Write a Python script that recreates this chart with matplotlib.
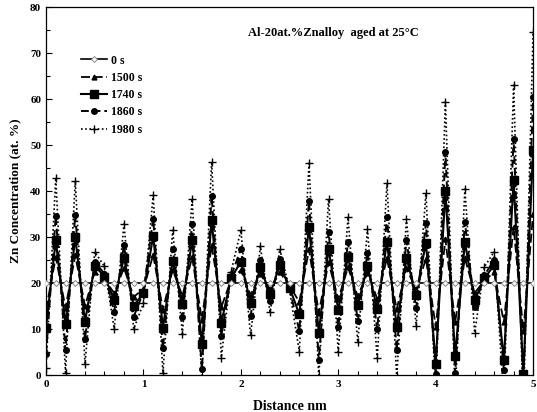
import numpy as np
import matplotlib
matplotlib.use('Agg')
import matplotlib.pyplot as plt
from matplotlib.ticker import MultipleLocator

plt.rcParams['font.family'] = ['Liberation Serif', 'DejaVu Serif']
plt.rcParams['font.weight'] = 'bold'

# distance along the profile (nm), one point every 0.1 nm
distance = np.linspace(0, 5, 51)

conc_0 = [20.0] * 51
conc_1500 = [14.2, 25.6, 14.6, 26.0, 15.0, 22.3, 20.8, 17.8, 23.3, 17.0,
             18.7, 26.1, 14.2, 22.9, 17.2, 25.6, 12.0, 28.2, 14.8, 20.7,
             22.8, 17.4, 22.0, 18.6, 22.3, 19.4, 15.9, 27.3, 13.5, 24.5,
             16.5, 23.4, 17.1, 22.2, 16.6, 25.4, 14.3, 23.2, 18.5, 25.3,
             10.5, 29.5, 11.5, 25.4, 17.8, 20.6, 22.3, 11.5, 32.2, 9.5, 35.1]
conc_1740 = [10.3, 29.3, 11.0, 30.0, 11.6, 23.8, 21.4, 16.4, 25.5, 15.0,
             17.8, 30.2, 10.3, 24.8, 15.4, 29.3, 6.7, 33.7, 11.4, 21.1,
             24.6, 15.7, 23.4, 17.6, 23.9, 19.0, 13.2, 32.2, 9.2, 27.5,
             14.1, 25.7, 15.2, 23.7, 14.3, 29.0, 10.5, 25.4, 17.5, 28.8,
             2.5, 40.0, 4.1, 29.0, 16.3, 21.0, 23.9, 3.3, 42.4, 0.2, 48.9]
conc_1860 = [4.5, 34.6, 5.4, 34.8, 7.8, 24.6, 22.0, 13.8, 28.3, 12.7,
             18.0, 34.0, 5.8, 27.5, 12.7, 32.8, 1.2, 39.0, 8.5, 21.5,
             27.4, 12.9, 25.0, 16.0, 25.2, 18.8, 9.6, 37.8, 3.3, 31.2,
             10.4, 29.0, 11.7, 26.6, 9.9, 34.4, 5.4, 29.3, 14.5, 33.0,
             0.2, 48.5, 0.4, 33.3, 14.8, 21.7, 25.0, 1.1, 51.4, -2.0, 60.4]
conc_1980 = [1.5, 42.8, 0.5, 42.2, 2.4, 26.8, 23.6, 10.0, 32.8, 10.0,
             15.6, 39.1, 0.4, 31.5, 9.0, 38.3, -1.0, 46.4, 3.8, 22.5,
             31.5, 8.6, 28.0, 13.6, 27.4, 18.5, 5.1, 46.0, -0.5, 38.3,
             5.0, 34.3, 7.1, 31.7, 3.6, 41.8, -0.5, 33.9, 10.7, 39.6,
             -4.0, 59.4, -4.0, 40.4, 9.2, 23.5, 26.8, -5.0, 63.0, -8.0, 74.6]

fig = plt.figure(figsize=(5.37, 4.12), dpi=100)
ax = fig.add_axes([0.0857, 0.0898, 0.907, 0.893])

ax.plot(distance, conc_1980, color='black', lw=1.2, ls=(0, (1, 1.5)),
        marker='+', ms=6, mew=1.0, label='1980 s', zorder=2)
ax.plot(distance, conc_1860, color='black', lw=1.4, ls=(0, (4, 2)),
        marker='o', ms=4, label='1860 s', zorder=3)
ax.plot(distance, conc_1740, color='black', lw=1.5, ls='-',
        marker='s', ms=5.5, label='1740 s', zorder=4)
ax.plot(distance, conc_1500, color='black', lw=1.3, ls=(0, (5, 2)),
        marker='^', ms=3.5, label='1500 s', zorder=5)
ax.plot(distance, conc_0, color='black', lw=1.2, ls='-',
        marker='D', ms=3, mfc='white', mec='#888888', mew=0.7,
        label='0 s', zorder=6)

ax.set_xlim(0, 5)
ax.set_ylim(0, 80)
ax.xaxis.set_major_locator(MultipleLocator(1))
ax.xaxis.set_minor_locator(MultipleLocator(0.2))
ax.yaxis.set_major_locator(MultipleLocator(10))
ax.yaxis.set_minor_locator(MultipleLocator(5))
ax.tick_params(which='both', direction='in', labelsize=8, width=0.8)
ax.tick_params(which='major', length=4)
ax.tick_params(which='minor', length=3)
for lab in ax.get_xticklabels() + ax.get_yticklabels():
    lab.set_fontweight('bold')
for s in ax.spines.values():
    s.set_linewidth(0.9)

ax.set_xlabel('Distance nm', fontsize=10, fontweight='bold', labelpad=8)
ax.set_ylabel('Zn Concentration (at. %)', fontsize=9.5, fontweight='bold', labelpad=6)

ax.text(0.59, 0.93, 'Al-20at.%Znalloy  aged at 25\u00b0C', transform=ax.transAxes,
        ha='center', va='center', fontsize=9, fontweight='bold')

handles, labels = ax.get_legend_handles_labels()
order = [4, 3, 2, 1, 0]
ax.legend([handles[i] for i in order], [labels[i] for i in order],
          loc='upper left', bbox_to_anchor=(0.05, 0.90), frameon=False,
          handlelength=2.2, labelspacing=0.45,
          handletextpad=0.3, prop={'weight': 'bold', 'size': 8.5})

fig.savefig('out.png', dpi=100)
